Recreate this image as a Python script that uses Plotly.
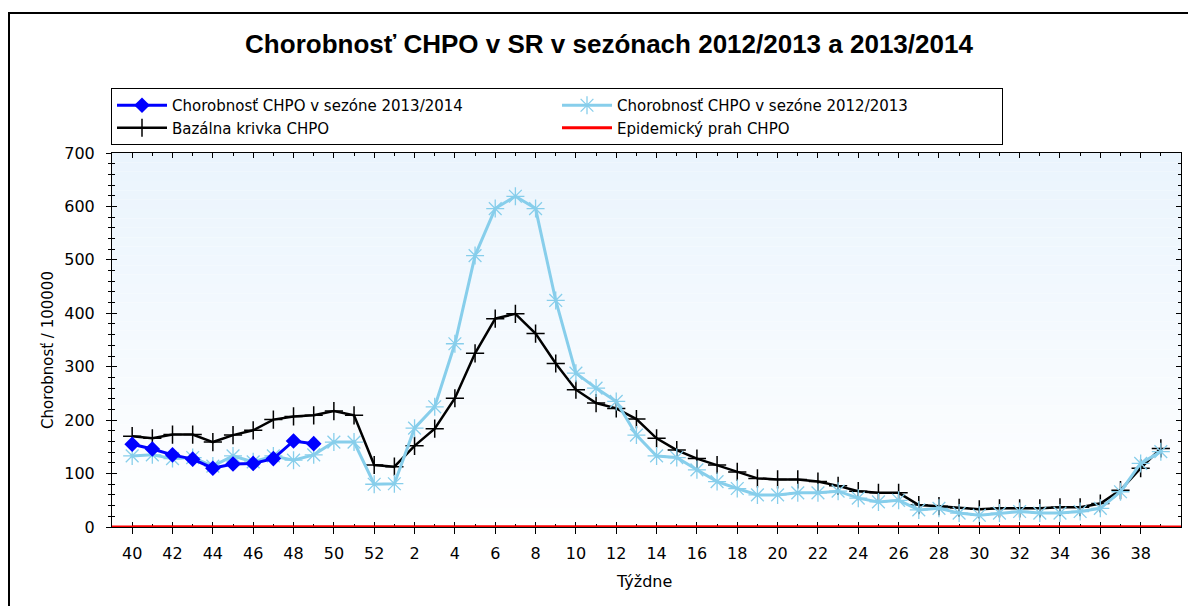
import plotly.graph_objects as go

# ---- data ----
weeks = [40, 41, 42, 43, 44, 45, 46, 47, 48, 49, 50, 51, 52,
         1, 2, 3, 4, 5, 6, 7, 8, 9, 10, 11, 12, 13, 14, 15, 16, 17, 18, 19, 20,
         21, 22, 23, 24, 25, 26, 27, 28, 29, 30, 31, 32, 33, 34, 35, 36, 37, 38, 39]

season_2012_2013 = [133, 135, 128, 130, 114, 133, 122, 133, 125, 135, 159, 159, 80,
                    81, 185, 225, 343, 508, 596, 619, 596, 424, 288, 260, 235, 172,
                    133, 130, 107, 85, 72, 60, 60, 64, 64, 67, 54, 47, 50, 32, 35,
                    26, 22, 26, 29, 26, 26, 29, 35, 66, 119, 141]

baseline = [170, 166, 173, 173, 159, 172, 181, 201, 207, 209, 217, 209, 116,
            113, 152, 184, 241, 325, 390, 399, 362, 306, 257, 232, 222, 202,
            166, 144, 128, 116, 103, 91, 89, 89, 85, 77, 67, 64, 64, 41, 39,
            36, 33, 35, 35, 35, 37, 37, 44, 69, 110, 147]

season_2013_2014 = [155, 146, 135, 127, 110, 118, 119, 128, 161, 156]

epidemic_threshold = [0] * len(weeks)

names = ["Chorobnosť CHPO v sezóne 2013/2014",
         "Chorobnosť CHPO v sezóne 2012/2013",
         "Bazálna krivka CHPO",
         "Epidemický prah CHPO"]

title_text = "Chorobnosť CHPO v SR v sezónach 2012/2013 a 2013/2014"
x_title = "Týždne"
y_title = "Chorobnosť / 100000"

# ---- layout geometry (page body adds an 8px offset) ----
W, H = 1188, 598
ML, MR, MT, MB = 104, 15, 145, 79
PW = W - ML - MR
PH = H - MT - MB


def px_x(px):
    return (px - ML) / PW


def px_y(py):
    return (H - MB - py) / PH


idx = list(range(len(weeks)))
FONT = "DejaVu Sans, Verdana, sans-serif"
TFONT = "Liberation Sans, Arial, sans-serif"

fig = go.Figure()

fig.add_trace(go.Scatter(
    x=idx, y=epidemic_threshold, name=names[3], mode="lines",
    line=dict(color="#FF0000", width=3), legendrank=4))

fig.add_trace(go.Scatter(
    x=idx, y=baseline, name=names[2], mode="lines+markers",
    line=dict(color="#000000", width=2.5),
    marker=dict(symbol="cross-thin-open", size=13,
                line=dict(color="#000000", width=1.5)),
    legendrank=3))

fig.add_trace(go.Scatter(
    x=idx, y=season_2012_2013, name=names[1], mode="lines+markers",
    line=dict(color="#87CEEB", width=3),
    marker=dict(symbol="asterisk-open", size=15, color="#87CEEB",
                line=dict(color="#87CEEB", width=1.3)),
    legendrank=2))

fig.add_trace(go.Scatter(
    x=idx[:len(season_2013_2014)], y=season_2013_2014, name=names[0],
    mode="lines+markers",
    line=dict(color="#0000FF", width=3),
    marker=dict(symbol="diamond", size=12, color="#0000FF"),
    legendrank=1))

# gradient plot background
shapes = []
n = 40
top = (234, 244, 253)
bot = (255, 255, 255)
for k in range(n):
    t = k / (n - 1)
    c = tuple(round(top[j] + (bot[j] - top[j]) * t) for j in range(3))
    shapes.append(dict(type="rect", xref="paper", yref="paper",
                       x0=0, x1=1, y0=1 - (k + 1) / n, y1=1 - k / n,
                       fillcolor="rgb(%d,%d,%d)" % c, line=dict(width=0),
                       layer="below"))

# outer frame (extends beyond the right and bottom edges)
shapes.append(dict(type="rect", xref="paper", yref="paper",
                   x0=px_x(1), x1=1.2, y0=-0.6, y1=px_y(5),
                   line=dict(color="#000000", width=2), layer="above"))

# epidemic threshold spanning the full plot width
shapes.append(dict(type="line", xref="paper", yref="y",
                   x0=0, x1=1, y0=epidemic_threshold[0], y1=epidemic_threshold[0],
                   line=dict(color="#FF0000", width=3), layer="above"))

tickvals = [i for i, w in zip(idx, weeks) if w % 2 == 0]
ticktext = [str(w) for w in weeks if w % 2 == 0]
minorvals = [i for i, w in zip(idx, weeks) if w % 2 == 1]

axis_common = dict(showgrid=False, zeroline=False, linecolor="#000000",
                   linewidth=1, tickcolor="#000000")

fig.update_layout(
    width=W, height=H,
    margin=dict(l=ML, r=MR, t=MT, b=MB, pad=0),
    paper_bgcolor="#FFFFFF", plot_bgcolor="rgba(0,0,0,0)",
    font=dict(family=FONT, size=15, color="#000000"),
    title=dict(text="<b>" + title_text + "</b>", x=601 / W, xanchor="center",
               xref="container", y=1 - 36 / H, yanchor="middle",
               yref="container",
               font=dict(size=26, family=TFONT, color="#000000")),
    showlegend=True,
    legend=dict(orientation="h", x=px_x(103), y=px_y(80),
                xanchor="left", yanchor="top",
                entrywidth=380, entrywidthmode="pixels",
                itemwidth=50, bordercolor="#000000", borderwidth=1,
                bgcolor="#FFFFFF",
                font=dict(family=FONT, size=15, color="#000000"),
                tracegroupgap=0, traceorder="normal"),
    xaxis=dict(range=[-1, 52], tickmode="array", tickvals=tickvals,
               ticktext=ticktext, ticks="outside", ticklen=6, tickwidth=1,
               ticklabelstandoff=6,
               minor=dict(tickmode="array", tickvals=minorvals, ticks="inside",
                          ticklen=3, tickcolor="#000000", tickwidth=1),
               mirror=True, tickfont=dict(size=16, family=FONT, color="#000000"),
               **axis_common),
    yaxis=dict(range=[0, 700], tickmode="linear", tick0=0, dtick=100,
               ticks="outside", ticklen=5, tickwidth=1,
               ticklabelstandoff=8,
               minor=dict(tick0=0, dtick=20, ticks="outside", ticklen=3,
                          tickcolor="#000000", tickwidth=1),
               mirror=True, tickfont=dict(size=16, family=FONT, color="#000000"),
               **axis_common),
    xaxis2=dict(range=[-1, 52], overlaying="x", tickmode="array",
                tickvals=tickvals, ticks="inside", ticklen=5, tickwidth=1,
                minor=dict(tickmode="array", tickvals=minorvals, ticks="inside",
                           ticklen=3, tickcolor="#000000", tickwidth=1),
                showticklabels=False, mirror="ticks", side="bottom",
                **axis_common),
    yaxis2=dict(range=[0, 700], overlaying="y", tickmode="linear", tick0=0,
                dtick=100, ticks="inside", ticklen=5, tickwidth=1,
                minor=dict(tick0=0, dtick=20, ticks="inside", ticklen=3,
                           tickcolor="#000000", tickwidth=1),
                showticklabels=False, mirror="ticks", side="left",
                **axis_common),
    shapes=shapes,
    annotations=[
        dict(text=x_title, xref="paper", yref="paper",
             x=px_x(636), y=px_y(573),
             xanchor="center", yanchor="middle", showarrow=False,
             font=dict(size=16, family=FONT, color="#000000")),
        dict(text=y_title, xref="paper", yref="paper",
             x=px_x(40), y=px_y(342), textangle=-90,
             xanchor="center", yanchor="middle", showarrow=False,
             font=dict(size=15, family=FONT, color="#000000")),
    ],
)

# invisible trace to activate the overlay axes (for inside / mirrored ticks)
fig.add_trace(go.Scatter(x=[idx[0]], y=[epidemic_threshold[0]], xaxis="x2",
                         yaxis="y2", mode="markers", showlegend=False,
                         hoverinfo="skip", marker=dict(opacity=0)))

fig.write_html("out.html")
